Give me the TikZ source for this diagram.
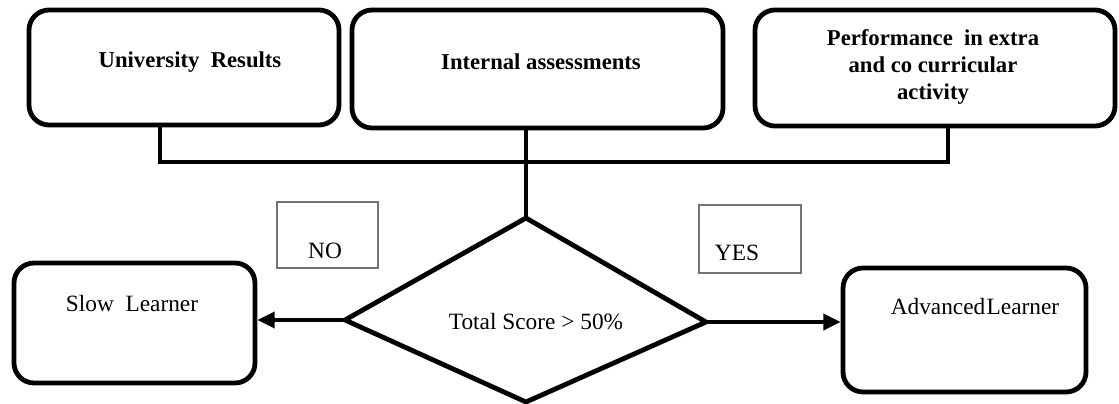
\documentclass[tikz,border=0pt]{standalone}
\usepackage{fontspec}
\setmainfont{Liberation Serif}
\usetikzlibrary{arrows.meta}
\begin{document}
\begin{tikzpicture}[x=0.75pt,y=-0.75pt,
  bigbox/.style={draw, line width=3.6pt, rounded corners=15pt, inner sep=0pt},
  toptext/.style={font=\fontsize{17}{20}\selectfont\bfseries, align=center, inner sep=0pt},
  lowtext/.style={font=\fontsize{17.5}{20}\selectfont, inner sep=0pt},
  labbox/.style={draw=black!55, line width=1.4pt, inner sep=0pt},
  conn/.style={line width=3.2pt},
  dia/.style={line width=3.6pt, line join=miter},
  arr/.style={line width=3pt, -{Triangle[length=13pt,width=12pt]}}]
\useasboundingbox (0,0) rectangle (1119,403);
% top boxes
\node[bigbox, minimum width=232.5pt, minimum height=86.25pt] (ur) at (184,67.5) {};
\node[toptext] (urt) at (190,62) {University\ \ Results};
\node[bigbox, minimum width=278.25pt, minimum height=88.5pt] (ia) at (537.5,69) {};
\node[toptext] (iat) at (541,62) {Internal assessments};
\node[bigbox, minimum width=270pt, minimum height=87pt] (pe) at (935,68) {};
\node[toptext] (pet) at (933,67) {Performance\ \ in extra\\and co curricular\\activity};
% bracket
\coordinate (j1) at (160,162);
\coordinate (j3) at (948,162);
\draw[conn] (ur.south -| j1) -- (j1) -- (j3) -- (pe.south -| j3);
% diamond
\coordinate (dT) at (526,218);
\coordinate (dL) at (345,320);
\coordinate (dB) at (526,402);
\coordinate (dR) at (706,322);
\draw[conn] (ia.south -| dT) -- (dT);
\draw[dia] (dT) -- (dR) -- (dB) -- (dL) -- cycle;
\node[lowtext] (tst) at (536,322) {Total Score > 50\%};
% outcome boxes
\node[bigbox, minimum width=180.75pt, minimum height=90pt] (slow) at (134.5,323) {};
\node[lowtext] (slowt) at (132,304) {Slow\ \ Learner};
\node[bigbox, minimum width=182.25pt, minimum height=93pt] (adv) at (964.5,330) {};
\node[lowtext] (advt) at (975,307) {Advanced\kern1pt Learner};
% labels
\node[labbox, minimum width=75.75pt, minimum height=49.5pt] (no) at (327.5,235) {};
\node[lowtext] (not) at (325,251) {NO};
\node[labbox, minimum width=76.5pt, minimum height=51pt] (yes) at (750,239) {};
\node[lowtext] (yest) at (737,253) {YES};
% arrows
\draw[arr] (dL) -- (slow.east |- dL);
\draw[arr] (dR) -- (adv.west |- dR);
\end{tikzpicture}
\end{document}
